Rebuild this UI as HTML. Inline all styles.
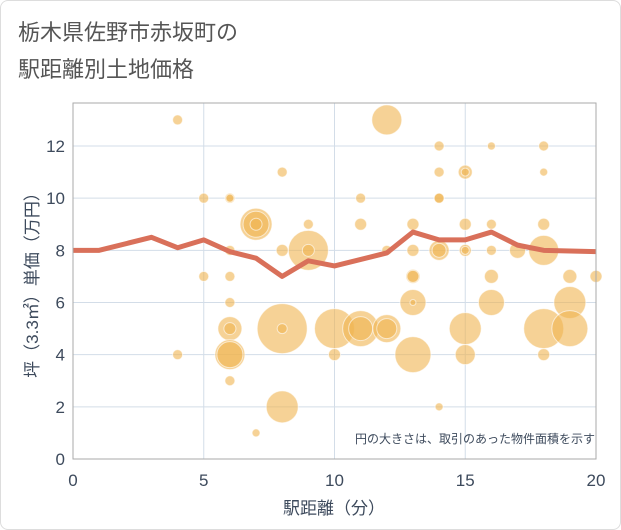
<!DOCTYPE html>
<html><head><meta charset="utf-8"><style>
body{margin:0;background:#fff;font-family:"Liberation Sans","Noto Sans CJK JP",sans-serif}
#wrap{position:relative;width:619px;height:528px;border:1px solid #ddd;border-radius:8px;overflow:hidden}
</style></head><body>
<div id="wrap">
<svg id="chart" width="621" height="530" style="position:absolute;left:-1px;top:-1px">
<text x="18" y="40" font-size="22" fill="#555" font-family="Liberation Sans, Noto Sans CJK JP, sans-serif">栃木県佐野市赤坂町の</text>
<text x="18" y="77" font-size="22" fill="#555" font-family="Liberation Sans, Noto Sans CJK JP, sans-serif">駅距離別土地価格</text>
<g id="grid"></g><g id="bubbles"></g><g id="line"></g><g id="axes"></g>
<text x="595" y="443" font-size="12" fill="#3d4a5c" text-anchor="end" font-family="Liberation Sans, Noto Sans CJK JP, sans-serif">円の大きさは、取引のあった物件面積を示す</text>
<text x="334" y="514" font-size="17" fill="#3d4a5c" text-anchor="middle" font-family="Liberation Sans, Noto Sans CJK JP, sans-serif">駅距離（分）</text>
<text transform="translate(38,281) rotate(-90)" font-size="17" fill="#3d4a5c" text-anchor="middle" font-family="Liberation Sans, Noto Sans CJK JP, sans-serif">坪（3.3㎡）単価（万円）</text>
</svg></div>
<script>
const xTicks=[0,5,10,15,20];
const yTicks=[0,2,4,6,8,10,12];
const lineX=[0,1,3,4,5,6,7,8,9,10,12,13,14,15,16,17,18,20];
const lineY=[8,8,8.5,8.1,8.4,7.95,7.7,7.0,7.6,7.4,7.9,8.7,8.4,8.4,8.7,8.2,8.0,7.95];
const bx=[4,4,5,5,6,6,6,6,6,6,6,6,6,6,7,7,7,7,8,8,8,8,8,9,9,9,10,10,11,11,11,11,12,12,12,12,13,13,13,13,13,13,13,14,14,14,14,14,14,14,15,15,15,15,15,15,15,16,16,16,16,16,17,18,18,18,18,18,18,19,19,19,20];
const by=[13,4,10,7,10,10,8,7,6,5,5,4,4,3,9,9,9,1,11,8,5,5,2,9,8,8,5,4,10,9,5,5,13,8,5,5,9,8,7,7,6,6,4,12,11,10,10,8,8,2,11,11,9,8,8,5,4,12,9,8,7,6,8,12,11,9,8,5,4,7,6,5,7];
const bs=[5,5,5,5,5,4,5,5,5,12,6,15,13,5,16,13,6,4,5,6,25,5,16,5,20,6,20,6,5,6,18,12,15,5,14,10,6,6,7,6,13,3,18,5,5,5,5,10,7,4,7,4,6,6,4,16,10,4,5,5,7,13,8,5,4,6,15,20,6,7,16,18,6];
const X0=73,X1=596,Y0=459,Y1=103;
const sx=v=>X0+(X1-X0)*v/20, sy=v=>Y0-(Y0-146)*v/12;
const NS="http://www.w3.org/2000/svg";
function mk(t,a,p){const e=document.createElementNS(NS,t);for(const k in a)e.setAttribute(k,a[k]);p.appendChild(e);return e;}
const grid=document.getElementById('grid'),axes=document.getElementById('axes');
xTicks.forEach(v=>{const l=mk('line',{x1:sx(v),x2:sx(v),y1:Y1,y2:Y0,stroke:'#d3dde8','stroke-width':1},grid);


const t=mk('text',{x:sx(v),y:Y0+27,'font-size':17,fill:'#3d4a5c','text-anchor':'middle'},axes);t.textContent=v;

});
yTicks.forEach(v=>{const l=mk('line',{x1:X0,x2:X1,y1:sy(v),y2:sy(v),stroke:'#d3dde8','stroke-width':1},grid);


const t=mk('text',{x:X0-8,y:sy(v)+6,'font-size':17,fill:'#3d4a5c','text-anchor':'end'},axes);t.textContent=v;

});
const fr=mk('rect',{x:X0,y:Y1,width:X1-X0,height:Y0-Y1,fill:'none',stroke:'#aaa','stroke-width':1},axes);


const bg=document.getElementById('bubbles');
bx.forEach((v,i)=>{const c=mk('circle',{cx:sx(v),cy:sy(by[i]),r:bs[i],fill:'#f0b450','fill-opacity':0.6,stroke:'#fff','stroke-opacity':0.6,'stroke-width':1},bg);

});
const p=mk('polyline',{points:lineX.map((v,i)=>sx(v)+','+sy(lineY[i])).join(' '),fill:'none',stroke:'#d9705a','stroke-width':5,'stroke-linejoin':'round'},document.getElementById('line'));


</script>
</body></html>
